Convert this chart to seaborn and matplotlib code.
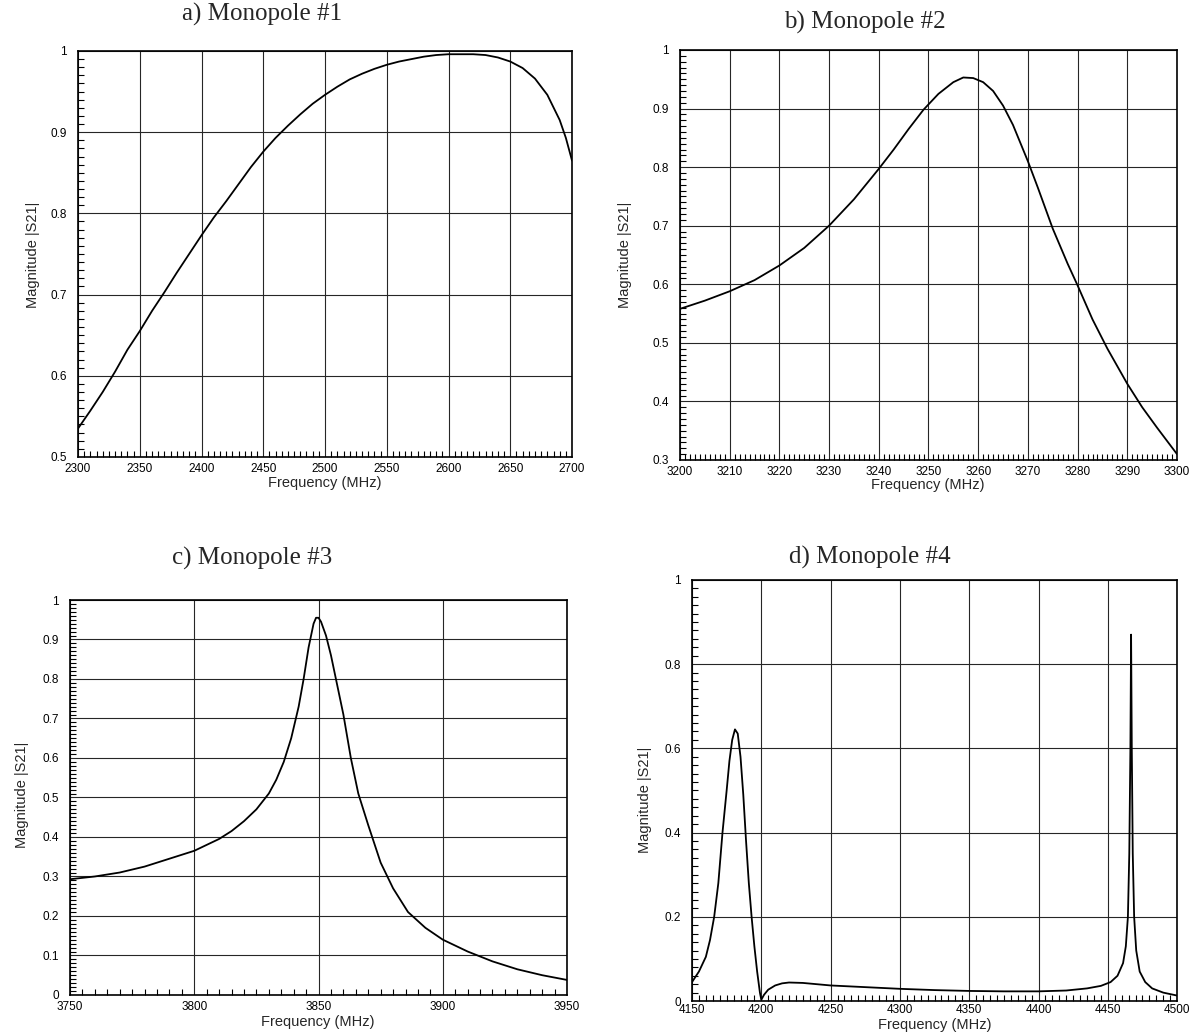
import matplotlib
matplotlib.use("Agg")
import matplotlib.pyplot as plt
from matplotlib.ticker import MultipleLocator, FuncFormatter
import seaborn as sns

# ---- data ----
freq_a = [2300, 2310, 2320, 2330, 2340, 2350, 2360, 2370, 2380, 2390, 2400, 2410, 2420,
          2430, 2440, 2450, 2460, 2470, 2480, 2490, 2500, 2510, 2520, 2530, 2540, 2550,
          2560, 2570, 2580, 2590, 2600, 2610, 2620, 2630, 2640, 2650, 2660, 2670, 2680,
          2690, 2695, 2700]
mag_a = [0.535, 0.557, 0.580, 0.605, 0.632, 0.655, 0.680, 0.703, 0.727, 0.750, 0.773,
         0.795, 0.815, 0.836, 0.857, 0.876, 0.893, 0.908, 0.922, 0.935, 0.946, 0.956,
         0.965, 0.972, 0.978, 0.983, 0.987, 0.990, 0.993, 0.995, 0.996, 0.996, 0.996,
         0.995, 0.992, 0.987, 0.979, 0.966, 0.946, 0.915, 0.893, 0.865]

freq_b = [3200, 3205, 3210, 3215, 3220, 3225, 3230, 3235, 3240, 3243, 3246, 3249, 3252,
          3255, 3257, 3259, 3261, 3263, 3265, 3267, 3270, 3272, 3275, 3278, 3280, 3283,
          3286, 3290, 3293, 3296, 3300]
mag_b = [0.558, 0.572, 0.588, 0.607, 0.632, 0.662, 0.700, 0.745, 0.797, 0.830, 0.865,
         0.898, 0.925, 0.945, 0.953, 0.952, 0.945, 0.930, 0.905, 0.872, 0.810, 0.765,
         0.695, 0.635, 0.598, 0.540, 0.490, 0.430, 0.390, 0.355, 0.310]

freq_c = [3750, 3760, 3770, 3780, 3790, 3800, 3810, 3815, 3820, 3825, 3830, 3833, 3836,
          3839, 3842, 3844, 3846, 3848, 3849, 3850, 3851, 3853, 3855, 3857, 3860, 3863,
          3866, 3870, 3875, 3880, 3886, 3893, 3900, 3910, 3920, 3930, 3940, 3950]
mag_c = [0.293, 0.300, 0.310, 0.325, 0.345, 0.365, 0.395, 0.415, 0.440, 0.470, 0.510,
         0.545, 0.590, 0.650, 0.730, 0.800, 0.880, 0.940, 0.955, 0.955, 0.945, 0.910,
         0.860, 0.800, 0.710, 0.600, 0.510, 0.430, 0.335, 0.270, 0.210, 0.170, 0.140,
         0.110, 0.085, 0.065, 0.050, 0.038]

freq_d = [4150, 4155, 4160, 4163, 4166, 4169, 4172, 4175, 4177, 4179, 4181, 4183, 4185,
          4187, 4189, 4191, 4193, 4195, 4197, 4199, 4200, 4202, 4205, 4210, 4215, 4220,
          4230, 4240, 4250, 4275, 4300, 4325, 4350, 4375, 4400, 4420, 4435, 4445, 4452,
          4457, 4461, 4463, 4464.5, 4465.5, 4466.3, 4466.8, 4467.3, 4468, 4469, 4470.5,
          4473, 4477, 4482, 4490, 4500]
mag_d = [0.045, 0.070, 0.105, 0.145, 0.200, 0.280, 0.400, 0.500, 0.570, 0.620, 0.645,
         0.635, 0.580, 0.490, 0.380, 0.280, 0.200, 0.130, 0.070, 0.020, 0.003, 0.015,
         0.027, 0.037, 0.042, 0.044, 0.043, 0.040, 0.037, 0.033, 0.029, 0.026, 0.024,
         0.023, 0.023, 0.025, 0.030, 0.036, 0.045, 0.060, 0.090, 0.130, 0.200, 0.350,
         0.600, 0.870, 0.600, 0.350, 0.200, 0.120, 0.070, 0.045, 0.030, 0.020, 0.013]

titles = ["a) Monopole #1", "b) Monopole #2", "c) Monopole #3", "d) Monopole #4"]

sns.set_style("white")
plt.rcParams["font.family"] = ["Liberation Sans", "DejaVu Sans"]

W, H = 1189, 1032
fig = plt.figure(figsize=(W / 100, H / 100), dpi=100)

# (rect, xlim, ylim, x major, x minor, y major, y minor, title px, xlabel px, ylabel px, xpad)
panels = [
    ([0.0656, 0.5572, 0.4155, 0.3934], (2300, 2700), (0.5, 1.0), 50, 5, 0.1, 0.01,
     (262, 14), (325, 483), (33, 255), 4),
    ([0.5719, 0.5543, 0.4180, 0.3973], (3200, 3300), (0.3, 1.0), 10, 1, 0.1, 0.01,
     (865, 22), (928, 485), (625, 255), 4),
    ([0.0589, 0.0359, 0.4180, 0.3827], (3750, 3950), (0.0, 1.0), 50, 5, 0.1, 0.01,
     (252, 558), (318, 1022), (22, 795), 4),
    ([0.5820, 0.0300, 0.4080, 0.4081], (4150, 4500), (0.0, 1.0), 50, 5, 0.2, 0.02,
     (870, 557), (935, 1025), (645, 800), 2),
]
data = [(freq_a, mag_a), (freq_b, mag_b), (freq_c, mag_c), (freq_d, mag_d)]

fmt = FuncFormatter(lambda v, p: "%g" % round(v, 3))

for (rect, xl, yl, xM, xm, yM, ym, tpx, xpx, ypx, xpad), (fx, fy), title in zip(panels, data, titles):
    ax = fig.add_axes(rect)
    sns.lineplot(x=fx, y=fy, ax=ax, color="black", linewidth=1.3, sort=False)
    ax.set_xlim(*xl)
    ax.set_ylim(*yl)
    ax.xaxis.set_major_locator(MultipleLocator(xM))
    ax.xaxis.set_minor_locator(MultipleLocator(xm))
    ax.yaxis.set_major_locator(MultipleLocator(yM))
    ax.yaxis.set_minor_locator(MultipleLocator(ym))
    ax.xaxis.set_major_formatter(fmt)
    ax.yaxis.set_major_formatter(fmt)
    ax.grid(True, which="major", color="0.15", linewidth=0.8)
    ax.tick_params(which="both", direction="in", top=False, right=False,
                   bottom=True, left=True, labelsize=8.5, colors="black")
    ax.tick_params(axis="x", which="major", length=0, pad=xpad)
    ax.tick_params(axis="y", which="major", length=0, pad=8)
    ax.tick_params(which="minor", length=4, width=0.8)
    for s in ax.spines.values():
        s.set_color("black")
        s.set_linewidth(1.2)
    ax.set_xlabel("Frequency (MHz)", fontsize=10.5, va="center")
    ax.set_ylabel("Magnitude |S21|", fontsize=10.5, va="center")
    ax.xaxis.set_label_coords(xpx[0] / W, 1 - xpx[1] / H, transform=fig.transFigure)
    ax.yaxis.set_label_coords(ypx[0] / W, 1 - ypx[1] / H, transform=fig.transFigure)
    fig.text(tpx[0] / W, 1 - tpx[1] / H, title, family="Liberation Serif", fontsize=18,
             ha="center", va="center")

fig.savefig("out.png", dpi=100)
plt.close(fig)
